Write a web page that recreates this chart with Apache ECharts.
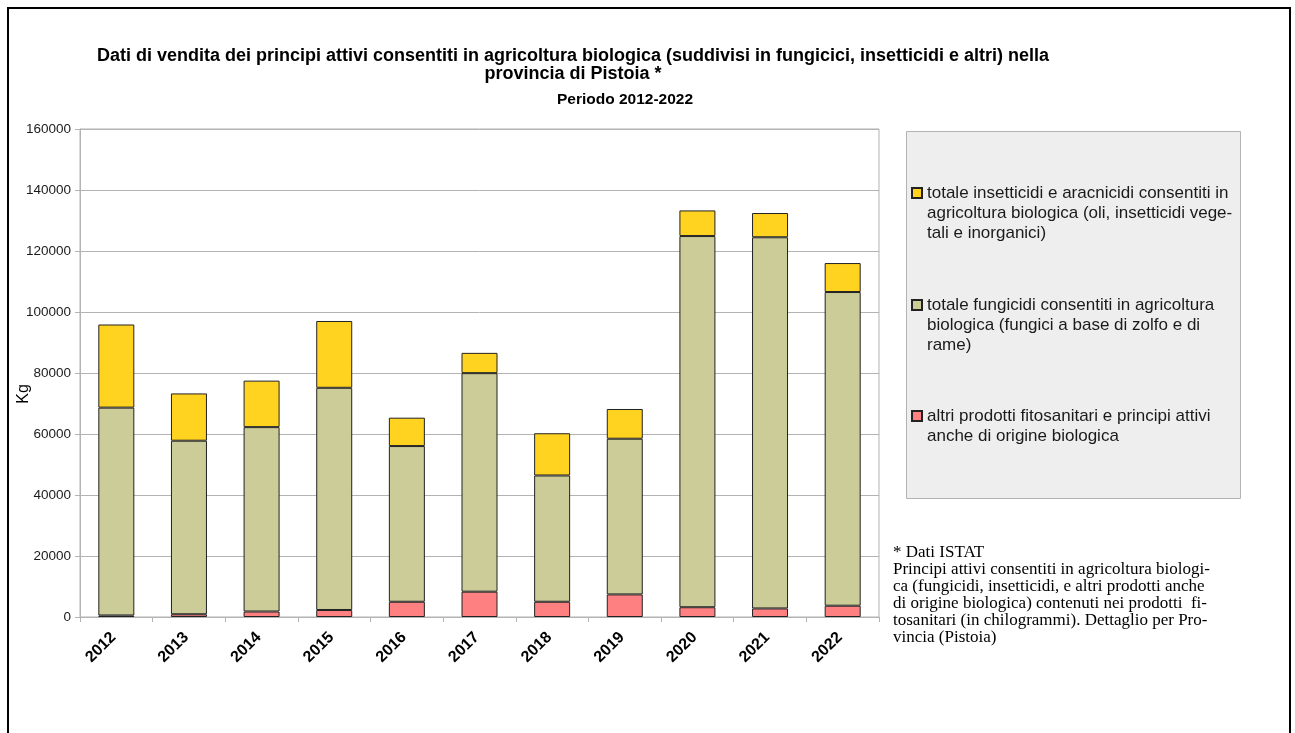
<!DOCTYPE html>
<html>
<head>
<meta charset="utf-8">
<script src="https://cdn.jsdelivr.net/npm/echarts@6/dist/echarts.min.js"></script>
<style>
html,body{margin:0;padding:0;background:#fff;}
#chart{width:1295px;height:733px;}
</style>
</head>
<body>
<div id="chart"></div>
<script>
// ---- data ----
var years = ['2012','2013','2014','2015','2016','2017','2018','2019','2020','2021','2022'];
var altri = [500, 900, 1800, 2300, 5000, 8300, 5000, 7400, 3200, 2800, 3700];
var fungicidi = [68150, 56900, 60450, 72850, 51050, 71650, 41400, 51050, 121700, 121700, 102850];
var insetticidi = [27250, 15500, 15250, 21900, 9300, 6650, 13850, 9750, 8400, 7950, 9500];
var yTicks = [0, 20000, 40000, 60000, 80000, 100000, 120000, 140000, 160000];

var nameA = 'altri prodotti fitosanitari e principi attivi anche di origine biologica';
var nameF = 'totale fungicidi consentiti in agricoltura biologica (fungici a base di zolfo e di rame)';
var nameI = 'totale insetticidi e aracnicidi consentiti in agricoltura biologica (oli, insetticidi vegetali e inorganici)';
var legendLines = {};
legendLines[nameI] = ['totale insetticidi e aracnicidi consentiti in', 'agricoltura biologica (oli, insetticidi vege-', 'tali e inorganici)'];
legendLines[nameF] = ['totale fungicidi consentiti in agricoltura', 'biologica (fungici a base di zolfo e di', 'rame)'];
legendLines[nameA] = ['altri prodotti fitosanitari e principi attivi', 'anche di origine biologica'];

var noteText = '* Dati ISTAT\nPrincipi attivi consentiti in agricoltura biologi-\nca (fungicidi, insetticidi, e altri prodotti anche\ndi origine biologica) contenuti nei prodotti  fi-\ntosanitari (in chilogrammi). Dettaglio per Pro-\nvincia (Pistoia)';

var chart = echarts.init(document.getElementById('chart'));

// the legend marker sits beside the first line of each wrapped label
function mkLegend(name, top) {
  var lines = legendLines[name];
  var pad = [];
  for (var i = 1; i < lines.length; i++) pad.push(' ');
  return {
    data: [name],
    left: 911,
    top: top,
    orient: 'vertical',
    padding: 0,
    itemWidth: 10,
    itemHeight: 10,
    icon: 'rect',
    selectedMode: false,
    formatter: function (n) { return pad.concat(legendLines[n]).join('\n'); },
    textStyle: {
      fontFamily: 'Liberation Sans',
      fontSize: 17,
      color: '#1a1a1a',
      lineHeight: 20
    }
  };
}

var barStyle = function (c) {
  return { color: c, borderColor: '#222', borderWidth: 1 };
};

chart.setOption({
  animation: false,
  backgroundColor: '#ffffff',
  title: [
    {
      text: 'Dati di vendita dei principi attivi consentiti in agricoltura biologica (suddivisi in fungicici, insetticidi e altri) nella\nprovincia di Pistoia *',
      left: 573, top: 47, padding: 0, textAlign: 'center',
      textStyle: { fontFamily: 'Liberation Sans', fontSize: 18, fontWeight: 'bold', color: '#000', lineHeight: 18 }
    },
    {
      text: 'Periodo 2012-2022',
      left: 625, top: 92, padding: 0, textAlign: 'center',
      textStyle: { fontFamily: 'Liberation Sans', fontSize: 15.5, fontWeight: 'bold', color: '#000', lineHeight: 16 }
    }
  ],
  legend: [
    mkLegend(nameI, 143),
    mkLegend(nameF, 255),
    mkLegend(nameA, 386)
  ],
  grid: {
    left: 80, right: 416, top: 129, bottom: 116,
    outerBoundsMode: 'none',
    containLabel: false,
    show: true, borderColor: '#b3b3b3', borderWidth: 1, backgroundColor: 'transparent'
  },
  xAxis: {
    type: 'category',
    data: years,
    axisLine: { lineStyle: { color: '#b3b3b3', width: 1 } },
    axisTick: { show: true, length: 5, lineStyle: { color: '#b3b3b3' } },
    axisLabel: {
      rotate: 45, margin: 15, padding: [0, 4, 0, 0],
      fontFamily: 'Liberation Sans', fontSize: 16, fontWeight: 'bold', color: '#000'
    }
  },
  yAxis: {
    type: 'value',
    min: 0, max: 160000, interval: 20000,
    name: 'Kg',
    nameLocation: 'middle',
    nameGap: 48,
    nameMoveOverlap: false,
    nameTextStyle: { fontFamily: 'Liberation Sans', fontSize: 16, color: '#000', padding: [0, 42, 0, 0] },
    axisLine: { show: true, lineStyle: { color: '#b3b3b3', width: 1 } },
    axisTick: { show: true, length: 5, lineStyle: { color: '#b3b3b3' } },
    splitLine: { lineStyle: { color: '#b3b3b3', width: 1 } },
    axisLabel: {
      margin: 9,
      fontFamily: 'Liberation Sans', fontSize: 13.5, color: '#1a1a1a',
      customValues: yTicks,
      formatter: function (v) { return String(v); }
    }
  },
  series: [
    { name: nameA, type: 'bar', stack: 'tot', data: altri, barWidth: 36, itemStyle: barStyle('#ff8080') },
    { name: nameF, type: 'bar', stack: 'tot', data: fungicidi, barWidth: 36, itemStyle: barStyle('#cccc99') },
    { name: nameI, type: 'bar', stack: 'tot', data: insetticidi, barWidth: 36, itemStyle: barStyle('#ffd320') }
  ],
  graphic: [
    {
      type: 'rect', z: -10, silent: true,
      shape: { x: 8, y: 8, width: 1282, height: 760 },
      style: { fill: 'none', stroke: '#000', lineWidth: 2 }
    },
    {
      type: 'rect', z: -5, silent: true,
      shape: { x: 906.5, y: 131.5, width: 334, height: 367 },
      style: { fill: '#eeeeee', stroke: '#b3b3b3', lineWidth: 1 }
    },
    {
      type: 'text', left: 893, top: 544, silent: true,
      style: {
        text: noteText,
        font: '17px "Liberation Serif"',
        lineHeight: 17,
        fill: '#000'
      }
    }
  ]
});
</script>
</body>
</html>
